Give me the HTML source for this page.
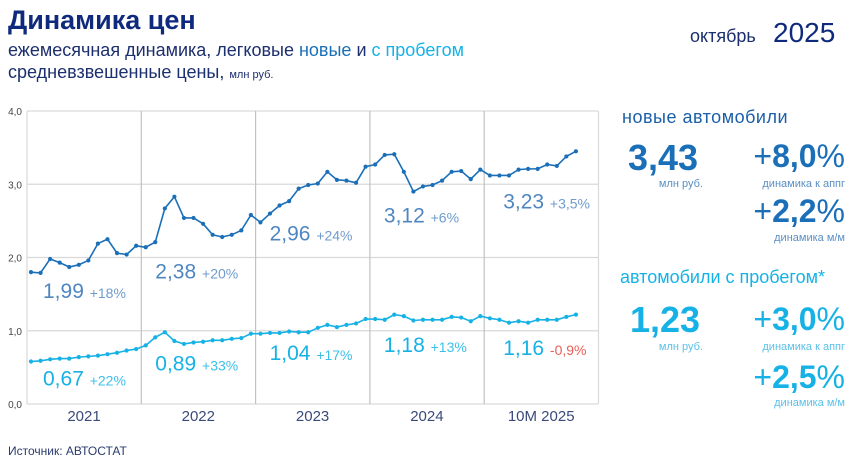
<!DOCTYPE html>
<html><head><meta charset="utf-8"><style>
html,body{margin:0;padding:0;background:#fff;}
body{width:850px;height:460px;overflow:hidden;font-family:"Liberation Sans","DejaVu Sans",sans-serif;}
svg text{font-family:"Liberation Sans","DejaVu Sans",sans-serif;}
</style></head><body>
<svg id="c" width="850" height="460" viewBox="0 0 850 460" xmlns="http://www.w3.org/2000/svg">
<text x="8" y="29" font-size="27" font-weight="bold" fill="#0f2a7c">Динамика цен</text>
<text x="8" y="56" font-size="18" fill="#1c2f6e">ежемесячная динамика, легковые <tspan fill="#1a6fb8">новые</tspan> и <tspan fill="#16b2e6">с пробегом</tspan></text>
<text x="8" y="78" font-size="18" fill="#1c2f6e">средневзвешенные цены, <tspan font-size="11">млн руб.</tspan></text>
<text x="690" y="42" font-size="18" fill="#1c2f6e">октябрь</text>
<text x="773" y="42" font-size="28" fill="#0f2a7c">2025</text>
<g id="grid"></g>
<g id="labels"></g>
<g id="series"></g>
<text x="8" y="455" font-size="12" fill="#2a3a6e">Источник: АВТОСТАТ</text>
<g>
<text x="622" y="123" font-size="18" fill="#1a5fa8" letter-spacing="0.5">новые автомобили</text>
<text x="628" y="170" font-size="36" font-weight="bold" fill="#1a6fb8">3,43</text>
<text x="703" y="187" font-size="11" fill="#5a8fc4" text-anchor="end">млн руб.</text>
<text x="845" y="167" font-size="32" fill="#1a6fb8" text-anchor="end">+<tspan font-weight="bold">8,0</tspan>%</text>
<text x="845" y="187" font-size="11" fill="#5a8fc4" text-anchor="end">динамика к аппг</text>
<text x="845" y="222" font-size="32" fill="#1a6fb8" text-anchor="end">+<tspan font-weight="bold">2,2</tspan>%</text>
<text x="845" y="241" font-size="11" fill="#5a8fc4" text-anchor="end">динамика м/м</text>
</g>
<g>
<text x="620" y="283" font-size="18" fill="#16b2e6">автомобили с пробегом*</text>
<text x="630" y="332" font-size="36" font-weight="bold" fill="#16b2e6">1,23</text>
<text x="703" y="350" font-size="11" fill="#5ac0e8" text-anchor="end">млн руб.</text>
<text x="845" y="330" font-size="32" fill="#16b2e6" text-anchor="end">+<tspan font-weight="bold">3,0</tspan>%</text>
<text x="845" y="350" font-size="11" fill="#5ac0e8" text-anchor="end">динамика к аппг</text>
<text x="845" y="388" font-size="32" fill="#16b2e6" text-anchor="end">+<tspan font-weight="bold">2,5</tspan>%</text>
<text x="845" y="406" font-size="11" fill="#5ac0e8" text-anchor="end">динамика м/м</text>
</g>
</svg>
<script>
const yTicks=[0,1,2,3,4];
const yTickLabels=["0,0","1,0","2,0","3,0","4,0"];
const years=["2021","2022","2023","2024","10M 2025"];
const newCars=[1.80,1.79,1.98,1.93,1.87,1.90,1.96,2.19,2.25,2.06,2.04,2.16,
2.14,2.21,2.67,2.83,2.54,2.54,2.46,2.31,2.28,2.31,2.37,2.58,
2.48,2.60,2.71,2.77,2.94,2.99,3.01,3.17,3.06,3.05,3.02,3.24,
3.27,3.40,3.41,3.17,2.90,2.97,2.99,3.05,3.17,3.18,3.07,3.20,
3.12,3.12,3.12,3.20,3.21,3.21,3.27,3.25,3.38,3.45];
const usedCars=[0.58,0.59,0.61,0.62,0.62,0.64,0.65,0.66,0.68,0.70,0.73,0.75,
0.80,0.91,0.98,0.86,0.82,0.84,0.85,0.87,0.87,0.89,0.90,0.96,
0.96,0.97,0.97,0.99,0.98,0.98,1.04,1.08,1.05,1.08,1.10,1.16,
1.16,1.15,1.22,1.20,1.14,1.15,1.15,1.15,1.19,1.18,1.13,1.20,
1.17,1.15,1.11,1.13,1.11,1.15,1.15,1.15,1.19,1.22];
const newAvg=["1,99","2,38","2,96","3,12","3,23"];
const newChg=["+18%","+20%","+24%","+6%","+3,5%"];
const usedAvg=["0,67","0,89","1,04","1,18","1,16"];
const usedChg=["+22%","+33%","+17%","+13%","-0,9%"];
const newLblY=[1.45,1.71,2.23,2.48,2.67];
const usedLblY=[0.25,0.46,0.60,0.71,0.67];

const NS="http://www.w3.org/2000/svg";
const L=27,R=598,T=111,B=404;
const x=i=>31+i*9.56;
const y=v=>B-(v/4)*(B-T);
const yearX=k=>L+k*114.3;
function mk(tag,attrs,parent){const e=document.createElementNS(NS,tag);for(const k in attrs)e.setAttribute(k,attrs[k]);parent.appendChild(e);return e;}
const grid=document.getElementById('grid'),labels=document.getElementById('labels'),series=document.getElementById('series');
yTicks.forEach((t,i)=>{
  const ln=mk('line',{x1:L,x2:R,y1:y(t),y2:y(t),stroke:'#d9d9d9','stroke-width':1.2},grid);
  
  
  const tx=mk('text',{x:22,y:y(t)+4,'font-size':10,fill:'#444','text-anchor':'end'},labels);
  tx.textContent=yTickLabels[i];
  
  
});
for(let k=0;k<=5;k++){
  const ln=mk('line',{x1:yearX(k),x2:yearX(k),y1:T,y2:B,stroke:k==0||k==5?'#d9d9d9':'#c2c2c2','stroke-width':1.2},grid);
  
  
}
years.forEach((yr,k)=>{
  const tx=mk('text',{x:yearX(k)+57,y:421,'font-size':15,fill:'#3a4a7a','text-anchor':'middle'},labels);
  tx.textContent=yr;
  
  
});
function ann(avg,chg,ly,col,chgCols){
  avg.forEach((a,k)=>{
    const tx=mk('text',{x:yearX(k)+(k==0?16:(k==4?19:14)),y:y(ly[k]),'font-size':21,fill:col},labels);
    tx.textContent=a+' ';
    const ts=mk('tspan',{'font-size':14,fill:chgCols(k)},tx);
    ts.textContent=chg[k];
    
    
  });
}
ann(newAvg,newChg,newLblY,'#4f86c0',()=>'#6f9bcc');
ann(usedAvg,usedChg,usedLblY,'#16b2e6',k=>usedChg[k][0]=='-'?'#e8605a':'#3cc0ea');
function line(data,col,name){
  const g=mk('g',{},series);
  
  
  const p=mk('polyline',{points:data.map((v,i)=>x(i)+','+y(v)).join(' '),fill:'none',stroke:col,'stroke-width':1.6},g);
  
  
  data.forEach((v,i)=>{
    const c=mk('circle',{cx:x(i),cy:y(v),r:2.1,fill:col},g);
    
    
  });
}
line(newCars,'#1a6fb8','new-cars-series');
line(usedCars,'#16b2e6','used-cars-series');
</script>
</body></html>
